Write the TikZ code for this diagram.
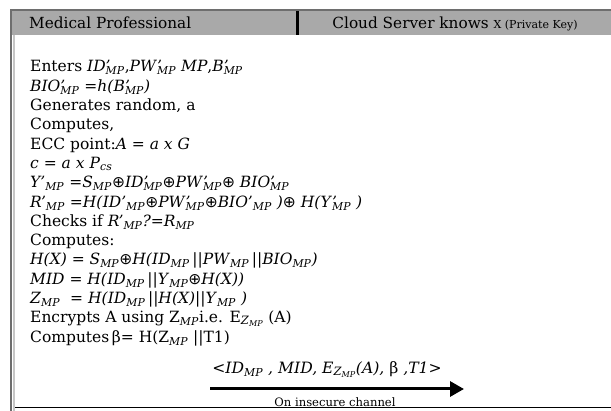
\documentclass[tikz,border=0pt]{standalone}
\usepackage{fontspec}
\setmainfont{DejaVu Serif}
\newfontfamily\symfont{DejaVu Sans}
\usetikzlibrary{arrows.meta}

\definecolor{hdrfill}{HTML}{A9A9A9}
\definecolor{frameline}{HTML}{6E6E6E}
\definecolor{framelight}{HTML}{C6C6C6}
\definecolor{baseline}{HTML}{F0F0F0}

% variable with subscript MP
\newcommand{\vs}[1]{\textit{#1}\textsubscript{\textit{MP}}}
% primed variable, prime stacked over the subscript
\newcommand{\vp}[1]{\textit{#1}\makebox[0pt][l]{\textit{’}}\textsubscript{\textit{MP}}}
% primed variable, subscript after the prime
\newcommand{\vq}[1]{\textit{#1’}\textsubscript{\textit{MP}}}
\newcommand{\xo}{{\symfont ⊕}}
% encryption key subscript Z_MP
\newcommand{\ez}{\raisebox{-1.5pt}{\fontsize{11.5}{11.5}\selectfont\textit{Z}\textsubscript{\textit{MP}}}}

\tikzset{
  body/.style={anchor=base west, inner sep=0pt, font=\fontsize{15.5}{16}\selectfont},
  head/.style={inner sep=0pt, font=\fontsize{15.3}{16}\selectfont},
  msgtext/.style={inner sep=0pt, anchor=base, font=\fontsize{15.6}{16}\selectfont},
}

\begin{document}
\begin{tikzpicture}[x=1pt,y=-1pt]
\useasboundingbox (0,0) rectangle (611,411);

% header band and frame
\fill[hdrfill] (11,11) rectangle (611,35);
\draw[frameline, line width=2pt] (10,10) -- (611,10);
\draw[frameline, line width=2.5pt] (11.2,10) -- (11.2,411);
\draw[framelight, line width=2pt] (13.5,35) -- (13.5,411);
\draw[black, line width=3.5pt] (297.5,11) -- (297.5,35);
\draw[baseline, line width=0.8pt] (15,407.8) -- (611,407.8);

\node[head, anchor=base west] (hmp) at (29,28.5) {Medical Professional};
\node[head, anchor=base] (hcs) at (455,28.5) {Cloud Server knows {\fontsize{11}{11}\selectfont X (Private Key)}};

% steps of the medical professional
\def\dy{19.3}
\node[body] (l1) at (30,72) {Enters \vp{ID},\vp{PW} \textit{MP},\vp{B}};
\node[body] (l2) at (30,72+1*\dy) {\vp{BIO} =\textit{h(}\vp{B}\textit{)}};
\node[body] (l3) at (30,72+2*\dy) {Generates random, a};
\node[body] (l4) at (30,72+3*\dy) {Computes,};
\node[body] (l5) at (30,72+4*\dy) {ECC point:\textit{A} = \textit{a x G}};
\node[body] (l6) at (30,72+5*\dy) {\textit{c} = \textit{a x P}\textsubscript{\textit{cs}}};
\node[body] (l7) at (30,72+6*\dy) {\vq{Y} =\vs{S}\xo\vp{ID}\xo\vp{PW}\xo{} \vp{BIO}};
\node[body] (l8) at (30,72+7*\dy) {\vq{R} =\textit{H(}\vq{ID}\xo\vp{PW}\xo\vq{BIO} \textit{)}\xo{} \textit{H(}\vp{Y} \textit{)}};
\node[body] (l9) at (30,72+8*\dy) {Checks if \vq{R}\textit{?=}\vs{R}};
\node[body] (l10) at (30,72+9*\dy) {Computes:};
\node[body] (l11) at (30,72+10*\dy) {\textit{H(X) = }\vs{S}\xo\textit{H(}\vs{ID}\,||\vs{PW}\,||\vs{BIO}\textit{)}};
\node[body] (l12) at (30,72+11*\dy) {\textit{MID = H(}\vs{ID}\,||\vs{Y}\xo\textit{H(X))}};
\node[body] (l13) at (30,72+12*\dy) {\vs{Z}\ \ \textit{= H(}\vs{ID}\,||\textit{H(X)}||\vs{Y} \textit{)}};
\node[body] (l14) at (30,72+13*\dy) {Encrypts A using Z\textsubscript{\textit{MP}}i.e. E\ez{} (A)};
\node[body] (l15) at (30,72+14*\dy) {Computes\,β= H(Z\textsubscript{\textit{MP}} ||T1)};

% message over the insecure channel
\coordinate (src) at (210,389);
\coordinate (dst) at (464,389);
\draw[line width=3pt, -{Triangle[length=14pt,width=15pt]}] (src) -- (dst);
\node[msgtext] (msg) at (327,374) {\textit{<}\vs{ID} \textit{, MID, E}\ez\textit{(A),} β \textit{,T1>}};
\node[inner sep=0pt, anchor=base, font=\fontsize{11.6}{12}\selectfont] (chan) at (335,406.3) {On insecure channel};
\end{tikzpicture}
\end{document}
